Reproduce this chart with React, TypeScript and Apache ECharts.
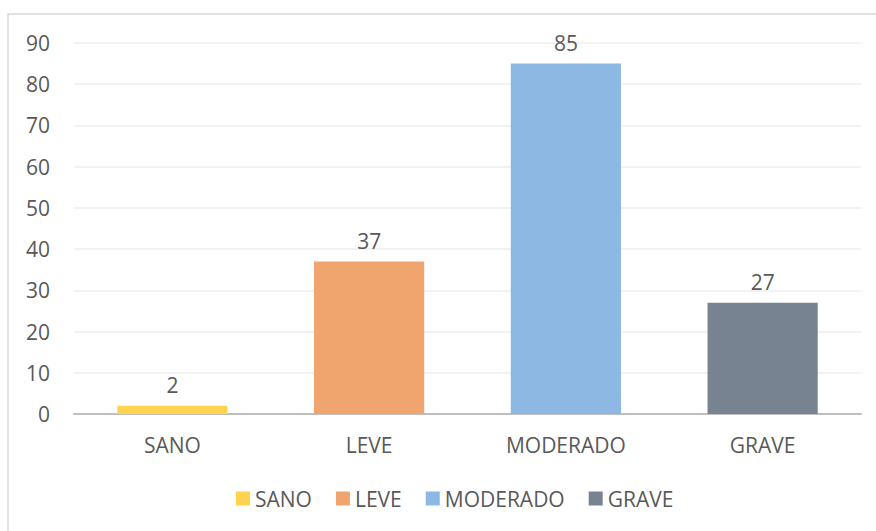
import React, { useEffect, useRef } from "react";
import * as echarts from "echarts";

const categories = ["SANO", "LEVE", "MODERADO", "GRAVE"];
const values = [2, 37, 85, 27];
const colors = ["#FFD34D", "#F0A46E", "#8DB8E3", "#778391"];
const yTicks = [0, 10, 20, 30, 40, 50, 60, 70, 80, 90];

const FONT = "'Open Sans', 'Noto Sans', sans-serif";
const TXT = "#595959";

export default function App() {
  const ref = useRef<HTMLDivElement>(null);
  useEffect(() => {
    if (!ref.current) return;
    const chart = echarts.init(ref.current, undefined, { renderer: "svg" });
    const series = categories.map((name, i) => ({
      name,
      type: "bar",
      stack: "all",
      barWidth: "56%",
      itemStyle: { color: colors[i] },
      label: {
        show: true,
        position: "top",
        distance: 10,
        color: TXT,
        fontSize: 21,
        fontFamily: FONT,
      },
      data: categories.map((_, j) => (j === i ? values[i] : "-")),
    }));
    chart.setOption({
      animation: false,
      backgroundColor: "#fff",
      textStyle: { fontFamily: FONT },
      graphic: [
        {
          type: "rect",
          shape: { x: 8, y: 14, width: 900, height: 600 },
          style: { fill: "none", stroke: "#D9D9D9", lineWidth: 1.5 },
          silent: true,
          z: -1,
        },
      ],
      grid: { left: 74, right: 15, top: 43, bottom: 117, containLabel: false },
      legend: {
        data: categories,
        bottom: 17,
        left: 231,
        icon: "rect",
        itemWidth: 14,
        itemHeight: 14,
        itemGap: 24,
        textStyle: { color: TXT, fontSize: 21, fontFamily: FONT },
      },
      xAxis: {
        type: "category",
        data: categories,
        axisTick: { show: false },
        axisLine: { lineStyle: { color: "#BFBFBF", width: 2 } },
        axisLabel: { color: TXT, fontSize: 21, fontFamily: FONT, margin: 20 },
      },
      yAxis: {
        type: "value",
        min: yTicks[0],
        max: yTicks[yTicks.length - 1],
        interval: 10,
        axisLine: { show: false },
        axisTick: { show: false },
        splitLine: { lineStyle: { color: "#EEEEEE", width: 1.5 } },
        axisLabel: { color: TXT, fontSize: 21, fontFamily: FONT, margin: 24 },
      },
      series,
    });
    return () => chart.dispose();
  }, []);
  return (
    <div
      ref={ref}
      style={{ position: "fixed", left: 0, top: 0, width: 876, height: 531 }}
    />
  );
}
